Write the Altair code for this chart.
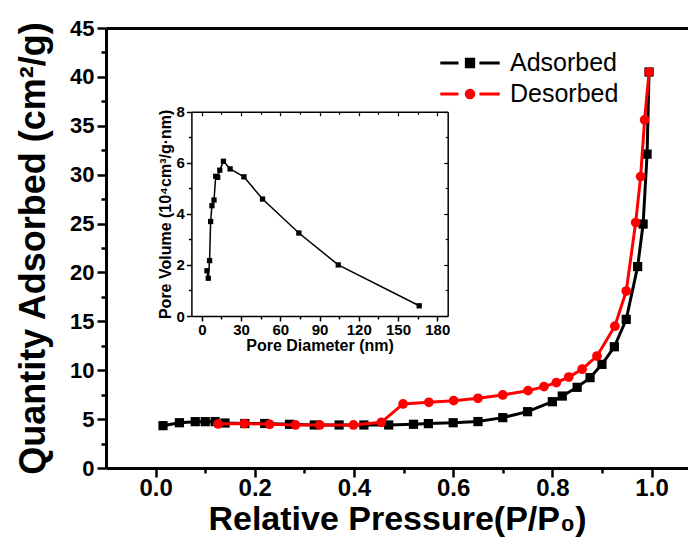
import altair as alt
import pandas as pd

# ---------------- data ----------------
ads_p = [0.015, 0.048, 0.08, 0.10, 0.12, 0.14, 0.18, 0.22, 0.27, 0.32, 0.37, 0.42, 0.47,
         0.52, 0.55, 0.60, 0.65, 0.70, 0.75, 0.80, 0.82, 0.85, 0.876, 0.90, 0.925, 0.949,
         0.972, 0.983, 0.991, 0.995]
ads_q = [4.33, 4.63, 4.74, 4.74, 4.74, 4.6, 4.55, 4.55, 4.47, 4.4, 4.4, 4.4, 4.4,
         4.47, 4.54, 4.63, 4.75, 5.15, 5.76, 6.78, 7.36, 8.25, 9.24, 10.6, 12.4, 15.2,
         20.6, 24.95, 32.1, 40.5]

des_p = [0.126, 0.179, 0.23, 0.282, 0.331, 0.399, 0.455, 0.499, 0.551, 0.601, 0.65, 0.70,
         0.751, 0.783, 0.808, 0.833, 0.86, 0.89, 0.926, 0.949, 0.968, 0.978, 0.986, 0.995]
des_q = [4.5, 4.54, 4.47, 4.4, 4.4, 4.4, 4.67, 6.55, 6.72, 6.89, 7.13, 7.47,
         7.91, 8.32, 8.73, 9.3, 10.1, 11.45, 14.5, 18.1, 25.1, 29.8, 35.6, 40.5]

pore_d = [3.9, 4.9, 5.9, 6.7, 7.7, 9.3, 10.6, 12.1, 13.7, 16.5, 21.6, 32.2, 46.4, 74.2, 104.3, 166.2]
pore_v = [1.77, 1.48, 2.17, 3.70, 4.32, 4.54, 5.47, 5.43, 5.71, 6.06, 5.76, 5.45, 4.58, 3.25, 2.0, 0.40]

series_names = ["Adsorbed", "Desorbed"]
series_colors = ["#000000", "#FF0000"]

main_x_ticks = [0.0, 0.1, 0.2, 0.3, 0.4, 0.5, 0.6, 0.7, 0.8, 0.9, 1.0]
main_y_ticks = [0, 2.5, 5, 7.5, 10, 12.5, 15, 17.5, 20, 22.5, 25, 27.5, 30, 32.5, 35, 37.5, 40, 42.5, 45]
inset_x_ticks = [0, 15, 30, 45, 60, 75, 90, 105, 120, 135, 150, 165, 180]
inset_y_ticks = [0, 1, 2, 3, 4, 5, 6, 7, 8]

x_title = "Relative Pressure(P/P\u2080)"
y_title = "Quantity Adsorbed (cm\u00b2/g)"
inset_x_title = "Pore Diameter (nm)"
inset_y_title = "Pore Volume (10\u2074cm\u00b3/g\u00b7nm)"

# ---------------- layout ----------------
F = "Liberation Sans, Arial, Helvetica, sans-serif"
W, H = 582, 440
INSET_X_RANGE = [85.4, 341.7]
INSET_Y_RANGE = [288, 83.7]

ads = pd.DataFrame({"p": ads_p, "q": ads_q})
des = pd.DataFrame({"p": des_p, "q": des_q})
pore = pd.DataFrame({"d": pore_d, "v": pore_v})

main_xs = alt.Scale(domain=[-0.1, 1.0735], nice=False, zero=False)
main_ys = alt.Scale(domain=[0, 45], nice=False, zero=False)

x_axis = alt.Axis(
    values=main_x_ticks,
    labelExpr="round(datum.value*10) % 2 == 0 ? format(datum.value, '.1f') : ''",
    tickSize={"condition": {"test": "round(datum.value*10) % 2 == 0", "value": 9}, "value": 5},
    tickWidth=2.5, domainWidth=3, labelFontSize=24, labelFontWeight="bold",
    labelPadding=-1, title=x_title, titleFontSize=34, titleFontWeight="bold",
    titlePadding=2, labelFlush=False, labelOverlap=False,
)
y_axis = alt.Axis(
    values=main_y_ticks,
    labelExpr="datum.value % 5 == 0 ? datum.label : ''",
    tickSize={"condition": {"test": "datum.value % 5 == 0", "value": 9}, "value": 5},
    tickWidth=2.5, domainWidth=3, labelFontSize=22, labelFontWeight="bold",
    labelPadding=3, title=y_title, titleFontSize=36, titleFontWeight="bold",
    titlePadding=17, labelFlush=False, labelOverlap=False,
)

X = alt.X("p:Q", scale=main_xs, axis=x_axis)
Y = alt.Y("q:Q", scale=main_ys, axis=y_axis)

line_a = alt.Chart(ads).mark_line(color=series_colors[0], strokeWidth=3).encode(x=X, y=Y)
pt_a = alt.Chart(ads).mark_point(shape="square", filled=True, size=85, color=series_colors[0], opacity=1).encode(x=X, y=Y)
line_d = alt.Chart(des).mark_line(color=series_colors[1], strokeWidth=3).encode(x=X, y=Y)
pt_d = alt.Chart(des).mark_point(shape="circle", filled=True, size=95, color=series_colors[1], opacity=1).encode(x=X, y=Y)
main = alt.layer(line_a, pt_a, line_d, pt_d)

# top frame line of main plot
main_top = alt.Chart(ads).mark_point(opacity=0).encode(
    x=alt.X("p:Q", scale=main_xs,
            axis=alt.Axis(orient="top", ticks=False, labels=False, title=None, domainWidth=3, grid=False))
)

# ---------------- inset ----------------
ins_xs = alt.Scale(domain=[-8, 188], range=INSET_X_RANGE, nice=False, zero=False)
ins_ys = alt.Scale(domain=[0, 8], range=INSET_Y_RANGE, nice=False, zero=False)

ins_x_axis = alt.Axis(
    orient="bottom", offset=-152, values=inset_x_ticks,
    labelExpr="datum.value % 30 == 0 ? datum.label : ''",
    tickSize={"condition": {"test": "datum.value % 30 == 0", "value": 5}, "value": 3},
    tickWidth=1.5, domainWidth=1.5, labelFontSize=15, labelFontWeight="bold",
    labelPadding=1, title=inset_x_title, titleFontSize=16, titleFontWeight="bold",
    titlePadding=0, labelFlush=False, labelOverlap=False,
)
ins_y_axis = alt.Axis(
    orient="left", offset=-85.4, values=inset_y_ticks,
    labelExpr="datum.value % 2 == 0 ? datum.label : ''",
    tickSize={"condition": {"test": "datum.value % 2 == 0", "value": 5}, "value": 3},
    tickWidth=1.5, domainWidth=1.5, labelFontSize=15, labelFontWeight="bold",
    labelPadding=2, title=inset_y_title, titleFontSize=16, titleFontWeight="bold",
    titlePadding=3, labelFlush=False, labelOverlap=False,
)
IX = alt.X("d:Q", scale=ins_xs, axis=ins_x_axis)
IY = alt.Y("v:Q", scale=ins_ys, axis=ins_y_axis)
ins_line = alt.Chart(pore).mark_line(color="black", strokeWidth=1.5).encode(x=IX, y=IY)
ins_pt = alt.Chart(pore).mark_point(shape="square", filled=True, size=28, color="black", opacity=1).encode(x=IX, y=IY)
inset = alt.layer(ins_line, ins_pt)

# inset frame: top and right sides with inward ticks
ins_frame = alt.Chart(pore).mark_point(opacity=0).encode(
    x=alt.X("d:Q", scale=ins_xs,
            axis=alt.Axis(orient="bottom", offset=-356.3, values=inset_x_ticks, labels=False, title=None,
                          tickSize={"condition": {"test": "datum.value % 30 == 0", "value": 4}, "value": 2.5},
                          tickWidth=1.2, domainWidth=1.5, grid=False)),
    y=alt.Y("v:Q", scale=ins_ys,
            axis=alt.Axis(orient="left", offset=-341.7, values=inset_y_ticks, labels=False, title=None,
                          tickSize={"condition": {"test": "datum.value % 2 == 0", "value": 4}, "value": 2.5},
                          tickWidth=1.2, domainWidth=1.5, grid=False)),
)

# ---------------- legend (one single-entry legend per series) ----------------
legend_paths = [
    "M-2.2,0H-0.85M0.7,0H2.2M-0.27,-0.27H0.27V0.27H-0.27Z",
    "M-2.2,0H-0.85M0.7,0H2.2M-0.28,0A0.28,0.28,0,1,1,0.28,0A0.28,0.28,0,1,1,-0.28,0Z",
]
legend_y = [20, 51]


def legend_layer(i):
    df = pd.DataFrame({"series": [series_names[i]]})
    lg = alt.Legend(
        title=None, orient="none", legendX=349, legendY=legend_y[i], padding=0,
        labelFont=F, labelFontSize=25, labelFontWeight="normal", labelColor="black",
        labelOffset=25, symbolSize=729, symbolStrokeWidth=3,
        symbolType=legend_paths[i], symbolFillColor=series_colors[i],
        symbolStrokeColor=series_colors[i], symbolOpacity=1,
    )
    return alt.Chart(df).mark_point(filled=True, opacity=0, size=729).encode(
        color=alt.Color("series:N", scale=alt.Scale(domain=[series_names[i]], range=[series_colors[i]]), legend=lg),
    )


leg_a = legend_layer(0)
leg_d = legend_layer(1)

chart = (
    alt.layer(main, main_top, inset, ins_frame, leg_a, leg_d)
    .resolve_scale(x="independent", y="independent", color="independent")
    .properties(
        width=W, height=H,
        padding={"left": 98, "top": 20, "right": 0, "bottom": 69},
        autosize=alt.AutoSizeParams(type="none"),
    )
    .configure_view(stroke=None)
    .configure_axis(labelFont=F, titleFont=F, domainColor="black", tickColor="black",
                    labelColor="black", titleColor="black", grid=False)
)

chart.save("out.html", embed_options={"renderer": "svg", "actions": False})
